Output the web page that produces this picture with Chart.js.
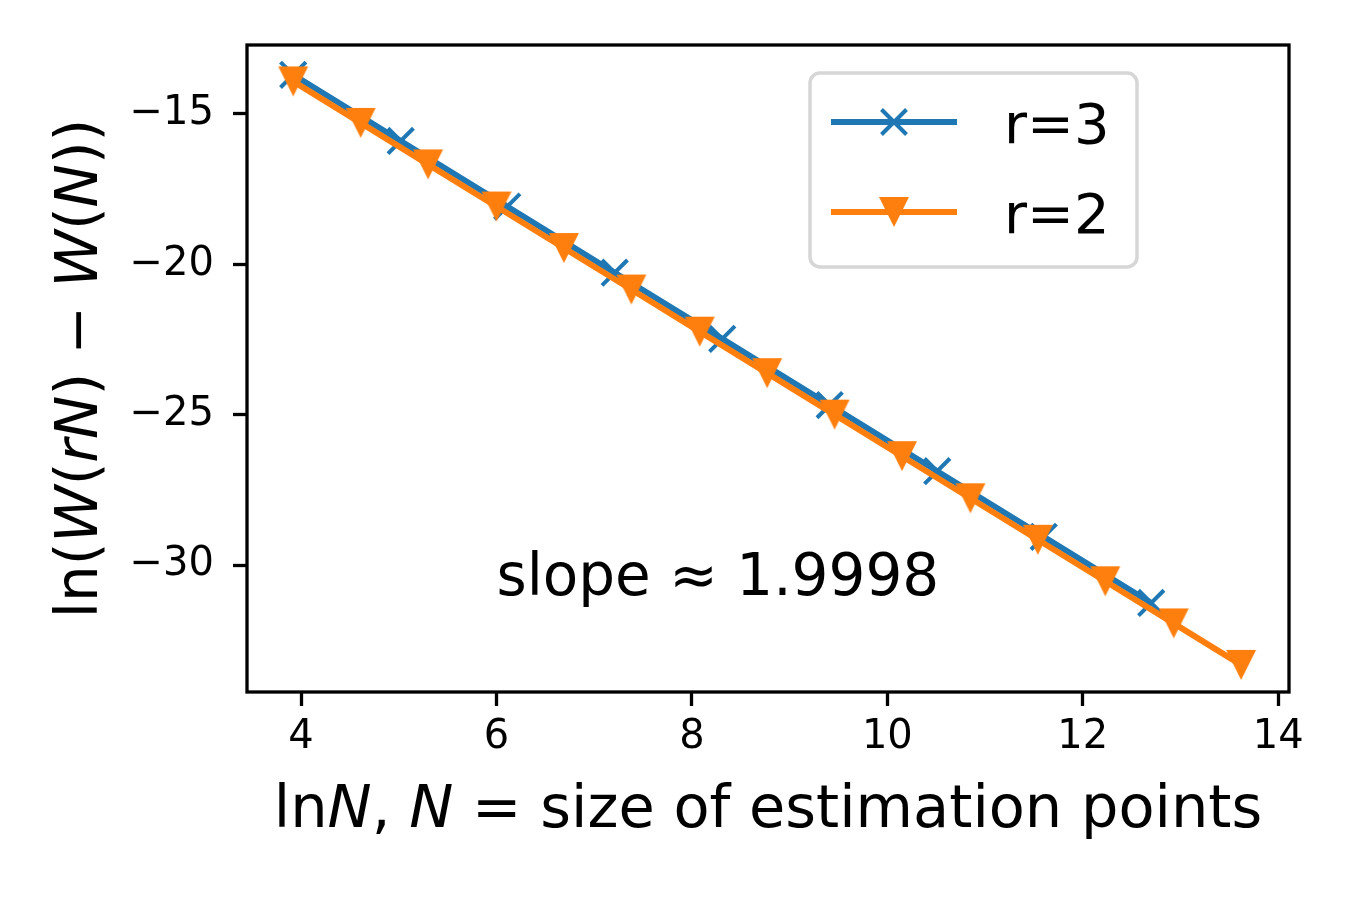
<!DOCTYPE html>
<html>
<head>
<meta charset="utf-8">
<script src="https://cdn.jsdelivr.net/npm/chart.js@4.4.1/dist/chart.umd.min.js"></script>
<style>
html, body { margin: 0; padding: 0; background: #fff; }
#wrap { width: 1350px; height: 900px; }
</style>
</head>
<body>
<div id="wrap"><canvas id="myChart" width="1350" height="900"></canvas></div>
<script>
// ln N and ln(W(rN) - W(N))
const r3X = [3.92, 5.02, 6.11, 7.21, 8.31, 9.41, 10.51, 11.60, 12.70]
const r3Y = [-13.70, -15.90, -18.08, -20.28, -22.48, -24.68, -26.88, -29.06, -31.26]
const r2X = [3.92, 4.61, 5.30, 6.00, 6.69, 7.38, 8.08, 8.77, 9.46, 10.15, 10.85, 11.54, 12.23, 12.93, 13.62]
const r2Y = [-13.92, -15.30, -16.68, -18.08, -19.46, -20.84, -22.24, -23.62, -25.00, -26.38, -27.78, -29.16, -30.54, -31.94, -33.32]
const xTicks = [4, 6, 8, 10, 12, 14]
const yTicks = [-30, -25, -20, -15]
const seriesNames = ['r=3', 'r=2']
const slopeText = 'slope \u2248 1.9998'
const slopeAt = [6, -31]

const BLUE = '#1f77b4'
const ORANGE = '#ff7f0e'
const FONT = '"DejaVu Sans", sans-serif'

const toPoints = (xs, ys) => xs.map((x, i) => ({ x: x, y: ys[i] }))

// down triangle centred on its box, like matplotlib 'v'
const triMarker = (() => {
    const c = document.createElement('canvas')
    c.width = 32
    c.height = 32
    const g = c.getContext('2d')
    g.fillStyle = ORANGE
    g.beginPath()
    g.moveTo(1, 1)
    g.lineTo(31, 1)
    g.lineTo(16, 31)
    g.closePath()
    g.fill()
    return c
})()

const drawRich = (ctx, parts, size, cx, y) => {
    let total = 0
    const widths = parts.map(([t, it]) => {
        ctx.font = (it ? 'italic ' : '') + size + 'px ' + FONT
        const w = ctx.measureText(t).width
        total += w
        return w
    })
    let x = cx - total / 2
    parts.forEach(([t, it], i) => {
        ctx.font = (it ? 'italic ' : '') + size + 'px ' + FONT
        ctx.fillText(t, x, y)
        x += widths[i]
    })
}

const drawCross = (ctx, x, y, h) => {
    ctx.beginPath()
    ctx.moveTo(x - h, y - h); ctx.lineTo(x + h, y + h)
    ctx.moveTo(x + h, y - h); ctx.lineTo(x - h, y + h)
    ctx.stroke()
}

const decor = {
    id: 'decor',
    afterDatasetsDraw(chart) {
        const { ctx, chartArea: a } = chart
        ctx.save()
        ctx.strokeStyle = '#000'
        ctx.lineWidth = 3.3
        ctx.strokeRect(a.left, a.top, a.right - a.left, a.bottom - a.top)
        ctx.restore()
    },
    afterDraw(chart) {
        const { ctx, chartArea: a, scales } = chart
        ctx.save()
        ctx.fillStyle = '#000'
        ctx.textBaseline = 'alphabetic'
        ctx.textAlign = 'left'

        // slope note
        ctx.font = '58px ' + FONT
        ctx.fillText(slopeText, scales.x.getPixelForValue(slopeAt[0]), scales.y.getPixelForValue(slopeAt[1]))

        // axis labels
        drawRich(ctx, [['ln', 0], ['N', 1], [', ', 0], ['N', 1], [' = size of estimation points', 0]],
            59, (a.left + a.right) / 2, 827)
        ctx.save()
        ctx.translate(97, (a.top + a.bottom) / 2)
        ctx.rotate(-Math.PI / 2)
        drawRich(ctx, [['ln(', 0], ['W', 1], ['(', 0], ['rN', 1], [') \u2212 ', 0], ['W', 1], ['(', 0], ['N', 1], ['))', 0]],
            58, 0, 0)
        ctx.restore()

        // legend
        const bx = a.right - 479, by = a.top + 28, bw = 327, bh = 194
        ctx.beginPath()
        ctx.roundRect(bx, by, bw, bh, 10)
        ctx.fillStyle = 'rgba(255,255,255,0.8)'
        ctx.fill()
        ctx.strokeStyle = '#d6d6d6'
        ctx.lineWidth = 3.5
        ctx.stroke()

        const rows = [by + 49, by + 139]
        const colors = [BLUE, ORANGE]
        rows.forEach((ry, i) => {
            ctx.strokeStyle = colors[i]
            ctx.lineWidth = 6
            ctx.beginPath()
            ctx.moveTo(bx + 21, ry)
            ctx.lineTo(bx + 147, ry)
            ctx.stroke()
            if (i === 0) {
                ctx.lineWidth = 4
                drawCross(ctx, bx + 84, ry, 12.5)
            } else {
                ctx.drawImage(triMarker, bx + 84 - 16, ry - 16)
            }
            ctx.fillStyle = '#000'
            ctx.font = '56px ' + FONT
            ctx.fillText(seriesNames[i], bx + 194, ry + 21)
        })
        ctx.restore()
    }
}

const tickFmt = v => String(v).replace('-', '\u2212')

new Chart(document.getElementById('myChart'), {
    type: 'scatter',
    data: {
        datasets: [{
            label: seriesNames[0],
            data: toPoints(r3X, r3Y),
            showLine: true,
            borderColor: BLUE,
            borderWidth: 6,
            pointStyle: 'crossRot',
            pointRadius: 18,
            pointBorderWidth: 4,
            pointBorderColor: BLUE,
            pointBackgroundColor: BLUE,
            order: 1
        }, {
            label: seriesNames[1],
            data: toPoints(r2X, r2Y),
            showLine: true,
            borderColor: ORANGE,
            borderWidth: 6,
            pointStyle: triMarker,
            pointRadius: 15,
            order: 0
        }]
    },
    options: {
        responsive: false,
        animation: false,
        layout: { padding: { left: 0, top: 45, right: 61, bottom: 0 } },
        plugins: { legend: { display: false }, tooltip: { enabled: false } },
        scales: {
            x: {
                type: 'linear',
                min: 3.447,
                max: 14.11,
                afterBuildTicks: s => { s.ticks = xTicks.map(v => ({ value: v })) },
                afterFit: s => { s.height = 208 },
                border: { display: false },
                grid: { display: true, drawOnChartArea: false, drawTicks: true, tickLength: 14, tickWidth: 3.3, tickColor: '#000' },
                ticks: { color: '#000', font: { family: 'DejaVu Sans', size: 40 }, padding: 8, maxRotation: 0, callback: tickFmt }
            },
            y: {
                type: 'linear',
                min: -34.22,
                max: -12.71,
                afterBuildTicks: s => { s.ticks = yTicks.map(v => ({ value: v })) },
                afterFit: s => { s.width = 247 },
                border: { display: false },
                grid: { display: true, drawOnChartArea: false, drawTicks: true, tickLength: 14, tickWidth: 3.3, tickColor: '#000' },
                ticks: { color: '#000', font: { family: 'DejaVu Sans', size: 40 }, padding: 19, callback: tickFmt }
            }
        }
    },
    plugins: [decor]
})
</script>
</body>
</html>
